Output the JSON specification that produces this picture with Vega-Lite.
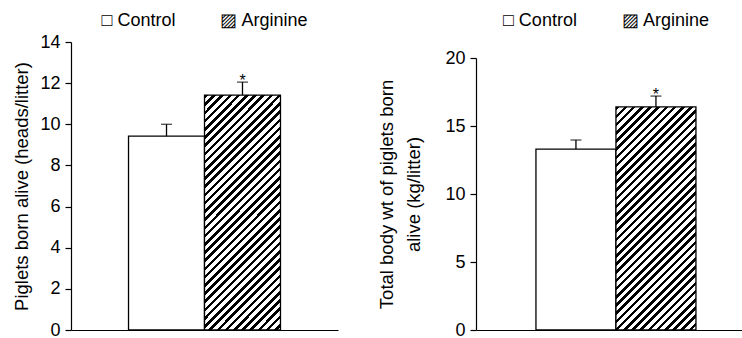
{
  "$schema": "https://vega.github.io/schema/vega-lite/v6.json",
  "padding": {"left": 12, "top": 12, "right": 0, "bottom": 0},
  "background": "white",
  "spacing": 39,
  "config": {
    "view": {"stroke": null},
    "font": "Liberation Sans",
    "axis": {
      "domainColor": "black",
      "domainWidth": 1.2,
      "tickColor": "black",
      "tickWidth": 1.2,
      "tickSize": 6,
      "labelPadding": 5,
      "labelFontSize": 18,
      "labelColor": "black",
      "labelFont": "Liberation Sans",
      "titleFont": "Liberation Sans",
      "titleFontSize": 18.5,
      "titleFontWeight": "normal",
      "titleColor": "black",
      "grid": false
    },
    "title": {"font": "Liberation Sans", "fontSize": 18, "fontWeight": "normal", "color": "black", "anchor": "middle", "frame": "group"}
  },
  "data": {
    "values": [
      {"panel": "alive", "group": "Control", "mean": 9.42, "upper": 10.0, "sig": ""},
      {"panel": "alive", "group": "Arginine", "mean": 11.42, "upper": 12.05, "sig": "*"},
      {"panel": "weight", "group": "Control", "mean": 13.3, "upper": 13.97, "sig": ""},
      {"panel": "weight", "group": "Arginine", "mean": 16.4, "upper": 17.2, "sig": "*"}
    ]
  },
  "hconcat": [
    {
      "width": 267,
      "height": 288,
      "title": {"text": "□ Control\u2003\u2003\u2002▨ Arginine", "offset": 3},
      "transform": [{"filter": "datum.panel === 'alive'"}],
      "encoding": {
        "x": {
          "field": "group", "type": "nominal", "sort": ["Control", "Arginine"],
          "scale": {"paddingInner": 0, "paddingOuter": 0.757},
          "axis": {"labels": false, "ticks": false, "title": null}
        }
      },
      "layer": [
        {
          "mark": {"type": "bar", "stroke": "black", "strokeWidth": 1.3},
          "encoding": {
            "y": {"field": "mean", "type": "quantitative", "scale": {"domain": [0, 14]},
              "axis": {"values": [0, 2, 4, 6, 8, 10, 12, 14], "title": "Piglets born alive (heads/litter)", "titlePadding": 8}},
            "fill": {
              "condition": {"test": "datum.group === 'Control'", "value": "white"},
              "value": {"gradient": "linear", "x1": 0, "y1": 0, "x2": 0.4102, "y2": 1.2659, "stops": [
                {"offset":0,"color":"#000"},{"offset":0.011,"color":"#000"},{"offset":0.011,"color":"#fff"},{"offset":0.025,"color":"#fff"},
                {"offset":0.025,"color":"#000"},{"offset":0.036,"color":"#000"},{"offset":0.036,"color":"#fff"},{"offset":0.05,"color":"#fff"},
                {"offset":0.05,"color":"#000"},{"offset":0.061,"color":"#000"},{"offset":0.061,"color":"#fff"},{"offset":0.075,"color":"#fff"},
                {"offset":0.075,"color":"#000"},{"offset":0.086,"color":"#000"},{"offset":0.086,"color":"#fff"},{"offset":0.1,"color":"#fff"},
                {"offset":0.1,"color":"#000"},{"offset":0.111,"color":"#000"},{"offset":0.111,"color":"#fff"},{"offset":0.125,"color":"#fff"},
                {"offset":0.125,"color":"#000"},{"offset":0.136,"color":"#000"},{"offset":0.136,"color":"#fff"},{"offset":0.15,"color":"#fff"},
                {"offset":0.15,"color":"#000"},{"offset":0.161,"color":"#000"},{"offset":0.161,"color":"#fff"},{"offset":0.175,"color":"#fff"},
                {"offset":0.175,"color":"#000"},{"offset":0.186,"color":"#000"},{"offset":0.186,"color":"#fff"},{"offset":0.2,"color":"#fff"},
                {"offset":0.2,"color":"#000"},{"offset":0.211,"color":"#000"},{"offset":0.211,"color":"#fff"},{"offset":0.225,"color":"#fff"},
                {"offset":0.225,"color":"#000"},{"offset":0.236,"color":"#000"},{"offset":0.236,"color":"#fff"},{"offset":0.25,"color":"#fff"},
                {"offset":0.25,"color":"#000"},{"offset":0.261,"color":"#000"},{"offset":0.261,"color":"#fff"},{"offset":0.275,"color":"#fff"},
                {"offset":0.275,"color":"#000"},{"offset":0.286,"color":"#000"},{"offset":0.286,"color":"#fff"},{"offset":0.3,"color":"#fff"},
                {"offset":0.3,"color":"#000"},{"offset":0.311,"color":"#000"},{"offset":0.311,"color":"#fff"},{"offset":0.325,"color":"#fff"},
                {"offset":0.325,"color":"#000"},{"offset":0.336,"color":"#000"},{"offset":0.336,"color":"#fff"},{"offset":0.35,"color":"#fff"},
                {"offset":0.35,"color":"#000"},{"offset":0.361,"color":"#000"},{"offset":0.361,"color":"#fff"},{"offset":0.375,"color":"#fff"},
                {"offset":0.375,"color":"#000"},{"offset":0.386,"color":"#000"},{"offset":0.386,"color":"#fff"},{"offset":0.4,"color":"#fff"},
                {"offset":0.4,"color":"#000"},{"offset":0.411,"color":"#000"},{"offset":0.411,"color":"#fff"},{"offset":0.425,"color":"#fff"},
                {"offset":0.425,"color":"#000"},{"offset":0.436,"color":"#000"},{"offset":0.436,"color":"#fff"},{"offset":0.45,"color":"#fff"},
                {"offset":0.45,"color":"#000"},{"offset":0.461,"color":"#000"},{"offset":0.461,"color":"#fff"},{"offset":0.475,"color":"#fff"},
                {"offset":0.475,"color":"#000"},{"offset":0.486,"color":"#000"},{"offset":0.486,"color":"#fff"},{"offset":0.5,"color":"#fff"},
                {"offset":0.5,"color":"#000"},{"offset":0.511,"color":"#000"},{"offset":0.511,"color":"#fff"},{"offset":0.525,"color":"#fff"},
                {"offset":0.525,"color":"#000"},{"offset":0.536,"color":"#000"},{"offset":0.536,"color":"#fff"},{"offset":0.55,"color":"#fff"},
                {"offset":0.55,"color":"#000"},{"offset":0.561,"color":"#000"},{"offset":0.561,"color":"#fff"},{"offset":0.575,"color":"#fff"},
                {"offset":0.575,"color":"#000"},{"offset":0.586,"color":"#000"},{"offset":0.586,"color":"#fff"},{"offset":0.6,"color":"#fff"},
                {"offset":0.6,"color":"#000"},{"offset":0.611,"color":"#000"},{"offset":0.611,"color":"#fff"},{"offset":0.625,"color":"#fff"},
                {"offset":0.625,"color":"#000"},{"offset":0.636,"color":"#000"},{"offset":0.636,"color":"#fff"},{"offset":0.65,"color":"#fff"},
                {"offset":0.65,"color":"#000"},{"offset":0.661,"color":"#000"},{"offset":0.661,"color":"#fff"},{"offset":0.675,"color":"#fff"},
                {"offset":0.675,"color":"#000"},{"offset":0.686,"color":"#000"},{"offset":0.686,"color":"#fff"},{"offset":0.7,"color":"#fff"},
                {"offset":0.7,"color":"#000"},{"offset":0.711,"color":"#000"},{"offset":0.711,"color":"#fff"},{"offset":0.725,"color":"#fff"},
                {"offset":0.725,"color":"#000"},{"offset":0.736,"color":"#000"},{"offset":0.736,"color":"#fff"},{"offset":0.75,"color":"#fff"},
                {"offset":0.75,"color":"#000"},{"offset":0.761,"color":"#000"},{"offset":0.761,"color":"#fff"},{"offset":0.775,"color":"#fff"},
                {"offset":0.775,"color":"#000"},{"offset":0.786,"color":"#000"},{"offset":0.786,"color":"#fff"},{"offset":0.8,"color":"#fff"},
                {"offset":0.8,"color":"#000"},{"offset":0.811,"color":"#000"},{"offset":0.811,"color":"#fff"},{"offset":0.825,"color":"#fff"},
                {"offset":0.825,"color":"#000"},{"offset":0.836,"color":"#000"},{"offset":0.836,"color":"#fff"},{"offset":0.85,"color":"#fff"},
                {"offset":0.85,"color":"#000"},{"offset":0.861,"color":"#000"},{"offset":0.861,"color":"#fff"},{"offset":0.875,"color":"#fff"},
                {"offset":0.875,"color":"#000"},{"offset":0.886,"color":"#000"},{"offset":0.886,"color":"#fff"},{"offset":0.9,"color":"#fff"},
                {"offset":0.9,"color":"#000"},{"offset":0.911,"color":"#000"},{"offset":0.911,"color":"#fff"},{"offset":0.925,"color":"#fff"},
                {"offset":0.925,"color":"#000"},{"offset":0.936,"color":"#000"},{"offset":0.936,"color":"#fff"},{"offset":0.95,"color":"#fff"},
                {"offset":0.95,"color":"#000"},{"offset":0.961,"color":"#000"},{"offset":0.961,"color":"#fff"},{"offset":0.975,"color":"#fff"},
                {"offset":0.975,"color":"#000"},{"offset":0.986,"color":"#000"},{"offset":0.986,"color":"#fff"},{"offset":1,"color":"#fff"}
              ]}
            }
          }
        },
        {
          "mark": {"type": "rule", "color": "black", "strokeWidth": 1.3},
          "encoding": {"y": {"field": "mean", "type": "quantitative"}, "y2": {"field": "upper"}}
        },
        {
          "mark": {"type": "tick", "color": "black", "size": 11, "thickness": 1.3},
          "encoding": {"y": {"field": "upper", "type": "quantitative"}}
        },
        {
          "mark": {"type": "text", "fontSize": 16, "baseline": "alphabetic", "dy": 4, "color": "black"},
          "encoding": {"y": {"field": "upper", "type": "quantitative"}, "text": {"field": "sig"}}
        }
      ]
    },
    {
      "title": {"text": "□ Control\u2003\u2003\u2002▨ Arginine", "offset": 12, "anchor": "start", "dx": 27},
      "spacing": 0,
      "vconcat": [
        {
          "width": 270,
          "height": 7,
          "data": {"values": []},
          "mark": "point",
          "encoding": {}
        },
        {
          "width": 270,
          "height": 272,
          "transform": [{"filter": "datum.panel === 'weight'"}],
          "encoding": {
            "x": {
              "field": "group", "type": "nominal", "sort": ["Control", "Arginine"],
              "scale": {"paddingInner": 0, "paddingOuter": 0.6875, "align": 0.545},
              "axis": {"labels": false, "ticks": false, "title": null}
            }
          },
          "layer": [
            {
              "mark": {"type": "bar", "stroke": "black", "strokeWidth": 1.3},
              "encoding": {
                "y": {"field": "mean", "type": "quantitative", "scale": {"domain": [0, 20]},
                  "axis": {"values": [0, 5, 10, 15, 20], "title": ["Total body wt of piglets born", "alive (kg/litter)"], "titlePadding": 21, "titleLineHeight": 27}},
                "fill": {
                  "condition": {"test": "datum.group === 'Control'", "value": "white"},
                  "value": {"gradient": "linear", "x1": 0, "y1": 0, "x2": 0.4674, "y2": 1.303, "stops": [
                    {"offset":0,"color":"#000"},{"offset":0.011,"color":"#000"},{"offset":0.011,"color":"#fff"},{"offset":0.025,"color":"#fff"},
                    {"offset":0.025,"color":"#000"},{"offset":0.036,"color":"#000"},{"offset":0.036,"color":"#fff"},{"offset":0.05,"color":"#fff"},
                    {"offset":0.05,"color":"#000"},{"offset":0.061,"color":"#000"},{"offset":0.061,"color":"#fff"},{"offset":0.075,"color":"#fff"},
                    {"offset":0.075,"color":"#000"},{"offset":0.086,"color":"#000"},{"offset":0.086,"color":"#fff"},{"offset":0.1,"color":"#fff"},
                    {"offset":0.1,"color":"#000"},{"offset":0.111,"color":"#000"},{"offset":0.111,"color":"#fff"},{"offset":0.125,"color":"#fff"},
                    {"offset":0.125,"color":"#000"},{"offset":0.136,"color":"#000"},{"offset":0.136,"color":"#fff"},{"offset":0.15,"color":"#fff"},
                    {"offset":0.15,"color":"#000"},{"offset":0.161,"color":"#000"},{"offset":0.161,"color":"#fff"},{"offset":0.175,"color":"#fff"},
                    {"offset":0.175,"color":"#000"},{"offset":0.186,"color":"#000"},{"offset":0.186,"color":"#fff"},{"offset":0.2,"color":"#fff"},
                    {"offset":0.2,"color":"#000"},{"offset":0.211,"color":"#000"},{"offset":0.211,"color":"#fff"},{"offset":0.225,"color":"#fff"},
                    {"offset":0.225,"color":"#000"},{"offset":0.236,"color":"#000"},{"offset":0.236,"color":"#fff"},{"offset":0.25,"color":"#fff"},
                    {"offset":0.25,"color":"#000"},{"offset":0.261,"color":"#000"},{"offset":0.261,"color":"#fff"},{"offset":0.275,"color":"#fff"},
                    {"offset":0.275,"color":"#000"},{"offset":0.286,"color":"#000"},{"offset":0.286,"color":"#fff"},{"offset":0.3,"color":"#fff"},
                    {"offset":0.3,"color":"#000"},{"offset":0.311,"color":"#000"},{"offset":0.311,"color":"#fff"},{"offset":0.325,"color":"#fff"},
                    {"offset":0.325,"color":"#000"},{"offset":0.336,"color":"#000"},{"offset":0.336,"color":"#fff"},{"offset":0.35,"color":"#fff"},
                    {"offset":0.35,"color":"#000"},{"offset":0.361,"color":"#000"},{"offset":0.361,"color":"#fff"},{"offset":0.375,"color":"#fff"},
                    {"offset":0.375,"color":"#000"},{"offset":0.386,"color":"#000"},{"offset":0.386,"color":"#fff"},{"offset":0.4,"color":"#fff"},
                    {"offset":0.4,"color":"#000"},{"offset":0.411,"color":"#000"},{"offset":0.411,"color":"#fff"},{"offset":0.425,"color":"#fff"},
                    {"offset":0.425,"color":"#000"},{"offset":0.436,"color":"#000"},{"offset":0.436,"color":"#fff"},{"offset":0.45,"color":"#fff"},
                    {"offset":0.45,"color":"#000"},{"offset":0.461,"color":"#000"},{"offset":0.461,"color":"#fff"},{"offset":0.475,"color":"#fff"},
                    {"offset":0.475,"color":"#000"},{"offset":0.486,"color":"#000"},{"offset":0.486,"color":"#fff"},{"offset":0.5,"color":"#fff"},
                    {"offset":0.5,"color":"#000"},{"offset":0.511,"color":"#000"},{"offset":0.511,"color":"#fff"},{"offset":0.525,"color":"#fff"},
                    {"offset":0.525,"color":"#000"},{"offset":0.536,"color":"#000"},{"offset":0.536,"color":"#fff"},{"offset":0.55,"color":"#fff"},
                    {"offset":0.55,"color":"#000"},{"offset":0.561,"color":"#000"},{"offset":0.561,"color":"#fff"},{"offset":0.575,"color":"#fff"},
                    {"offset":0.575,"color":"#000"},{"offset":0.586,"color":"#000"},{"offset":0.586,"color":"#fff"},{"offset":0.6,"color":"#fff"},
                    {"offset":0.6,"color":"#000"},{"offset":0.611,"color":"#000"},{"offset":0.611,"color":"#fff"},{"offset":0.625,"color":"#fff"},
                    {"offset":0.625,"color":"#000"},{"offset":0.636,"color":"#000"},{"offset":0.636,"color":"#fff"},{"offset":0.65,"color":"#fff"},
                    {"offset":0.65,"color":"#000"},{"offset":0.661,"color":"#000"},{"offset":0.661,"color":"#fff"},{"offset":0.675,"color":"#fff"},
                    {"offset":0.675,"color":"#000"},{"offset":0.686,"color":"#000"},{"offset":0.686,"color":"#fff"},{"offset":0.7,"color":"#fff"},
                    {"offset":0.7,"color":"#000"},{"offset":0.711,"color":"#000"},{"offset":0.711,"color":"#fff"},{"offset":0.725,"color":"#fff"},
                    {"offset":0.725,"color":"#000"},{"offset":0.736,"color":"#000"},{"offset":0.736,"color":"#fff"},{"offset":0.75,"color":"#fff"},
                    {"offset":0.75,"color":"#000"},{"offset":0.761,"color":"#000"},{"offset":0.761,"color":"#fff"},{"offset":0.775,"color":"#fff"},
                    {"offset":0.775,"color":"#000"},{"offset":0.786,"color":"#000"},{"offset":0.786,"color":"#fff"},{"offset":0.8,"color":"#fff"},
                    {"offset":0.8,"color":"#000"},{"offset":0.811,"color":"#000"},{"offset":0.811,"color":"#fff"},{"offset":0.825,"color":"#fff"},
                    {"offset":0.825,"color":"#000"},{"offset":0.836,"color":"#000"},{"offset":0.836,"color":"#fff"},{"offset":0.85,"color":"#fff"},
                    {"offset":0.85,"color":"#000"},{"offset":0.861,"color":"#000"},{"offset":0.861,"color":"#fff"},{"offset":0.875,"color":"#fff"},
                    {"offset":0.875,"color":"#000"},{"offset":0.886,"color":"#000"},{"offset":0.886,"color":"#fff"},{"offset":0.9,"color":"#fff"},
                    {"offset":0.9,"color":"#000"},{"offset":0.911,"color":"#000"},{"offset":0.911,"color":"#fff"},{"offset":0.925,"color":"#fff"},
                    {"offset":0.925,"color":"#000"},{"offset":0.936,"color":"#000"},{"offset":0.936,"color":"#fff"},{"offset":0.95,"color":"#fff"},
                    {"offset":0.95,"color":"#000"},{"offset":0.961,"color":"#000"},{"offset":0.961,"color":"#fff"},{"offset":0.975,"color":"#fff"},
                    {"offset":0.975,"color":"#000"},{"offset":0.986,"color":"#000"},{"offset":0.986,"color":"#fff"},{"offset":1,"color":"#fff"}
                  ]}
                }
              }
            },
            {
              "mark": {"type": "rule", "color": "black", "strokeWidth": 1.3},
              "encoding": {"y": {"field": "mean", "type": "quantitative"}, "y2": {"field": "upper"}}
            },
            {
              "mark": {"type": "tick", "color": "black", "size": 11, "thickness": 1.3},
              "encoding": {"y": {"field": "upper", "type": "quantitative"}}
            },
            {
              "mark": {"type": "text", "fontSize": 16, "baseline": "alphabetic", "dy": 4, "color": "black"},
              "encoding": {"y": {"field": "upper", "type": "quantitative"}, "text": {"field": "sig"}}
            }
          ]
        }
      ]
    }
  ]
}
